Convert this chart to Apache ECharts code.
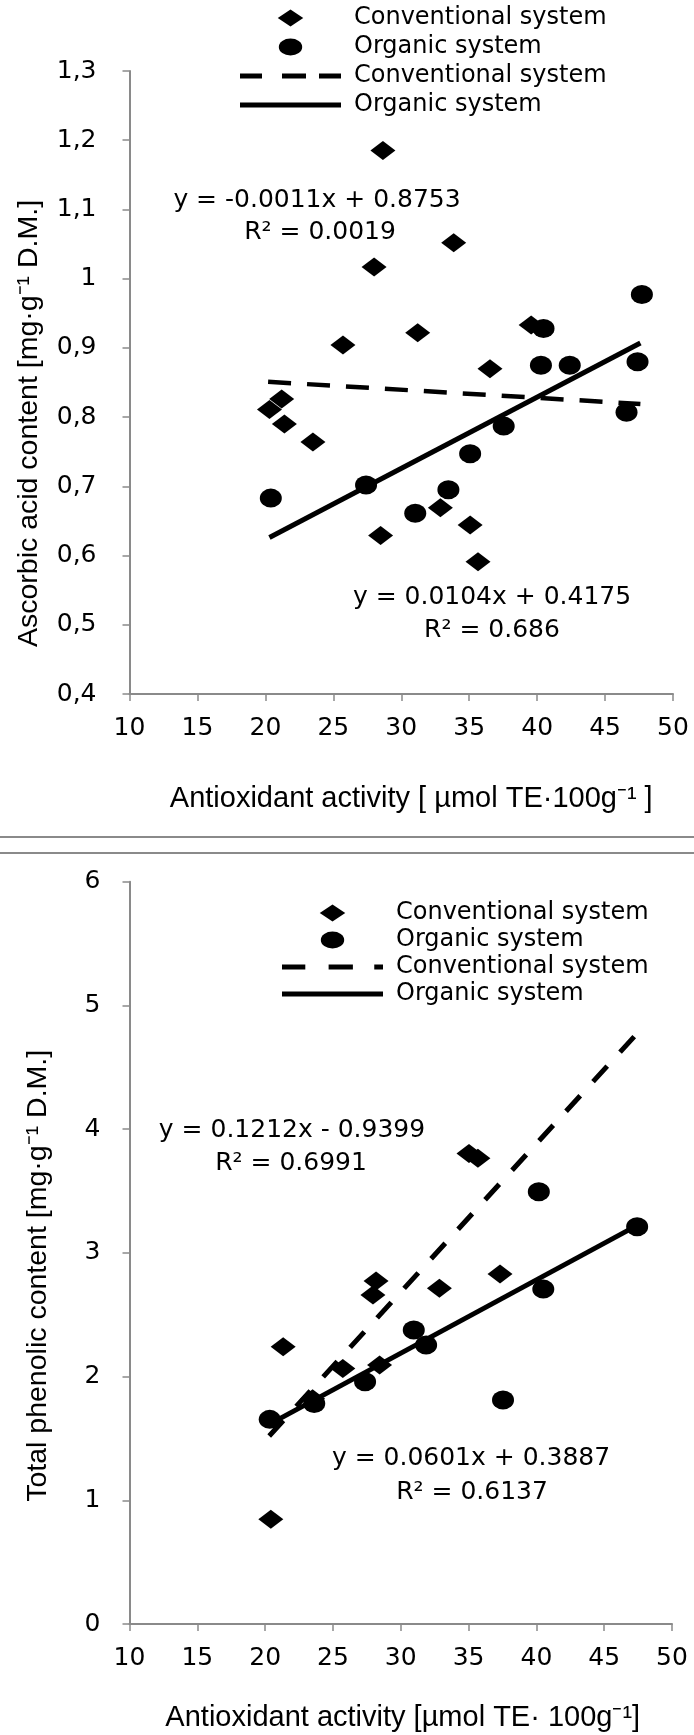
<!DOCTYPE html>
<html>
<head>
<meta charset="utf-8">
<script src="https://cdn.jsdelivr.net/npm/echarts@6/dist/echarts.min.js"></script>
<style>
    html, body { margin: 0; padding: 0; background: #fff; }
    #chart { width: 694px; height: 1735px; }
</style>
</head>
<body>
<div id="chart"></div>
<script>
// x axis ticks (both panels)
const xTicks = ['10', '15', '20', '25', '30', '35', '40', '45', '50'];
// y axis ticks
const yTicksA = ['0,4', '0,5', '0,6', '0,7', '0,8', '0,9', '1', '1,1', '1,2', '1,3'];
const yTicksB = ['0', '1', '2', '3', '4', '5', '6'];

// panel A: ascorbic acid vs antioxidant activity
const convAx = [28.65, 28.0, 33.86, 25.71, 31.21, 39.56, 36.53, 20.3, 21.2, 21.4, 23.5, 28.48, 32.88, 35.07, 35.65];
const convAy = [1.185, 1.017, 1.052, 0.904, 0.922, 0.933, 0.870, 0.811, 0.826, 0.790, 0.764, 0.629, 0.669, 0.644, 0.591];
const orgAx = [47.71, 40.47, 40.28, 42.40, 47.39, 46.58, 37.54, 35.07, 27.41, 33.47, 31.03, 20.40];
const orgAy = [0.977, 0.928, 0.875, 0.875, 0.880, 0.807, 0.787, 0.747, 0.702, 0.695, 0.661, 0.683];
const convFitA = [[20.2, 0.851], [47.6, 0.819]];
const orgFitA = [[20.3, 0.626], [47.6, 0.907]];

// panel B: total phenolics vs antioxidant activity
const convBx = [35.03, 35.69, 28.18, 27.95, 32.85, 37.32, 21.33, 25.73, 28.44, 23.5, 20.42];
const convBy = [3.804, 3.764, 2.772, 2.659, 2.713, 2.829, 2.241, 2.066, 2.093, 1.82, 0.846];
const orgBx = [47.43, 40.18, 40.51, 30.96, 31.87, 27.37, 37.54, 23.62, 20.34];
const orgBy = [3.211, 3.494, 2.707, 2.376, 2.255, 1.958, 1.810, 1.783, 1.654];
const convFitB = [[20.3, 1.52], [47.4, 4.77]];
const orgFitB = [[20.4, 1.62], [47.4, 3.22]];

const legendNames = {
    convA: 'Conventional system', orgA: 'Organic system',
    convFitA: 'Conventional system', orgFitA: 'Organic system',
    convB: 'Conventional system', orgB: 'Organic system',
    convFitB: 'Conventional system', orgFitB: 'Organic system'
};

const CAL = 'DejaVu Sans';
const ARIAL = 'Liberation Sans';
const AXIS_GRAY = '#8a8a8a';

const zip = (xs, ys) => xs.map((x, i) => [x, ys[i]]);

// legend icons
const diamondIcon = 'path://M12,0L24,8L12,16L0,8Z';
const ellipseIcon = 'path://M0,8A11,8 0 1,0 22,8A11,8 0 1,0 0,8Z';
const solidIcon = 'path://M0,0H101V5H0Z';
const dashIconA = 'path://M0,0H22V5H0Z M42,0H66V5H42Z M79,0H101V5H79Z';
const dashIconB = 'path://M0,0H24V5H0Z M48,0H73V5H48Z M95,0H104V5H95Z';

function xAxisOpt (gridIndex, name, nameGap, padLeft) {
    return {
        type: 'value', gridIndex, min: 10, max: 50, interval: 5,
        axisLine: { onZero: false, lineStyle: { color: AXIS_GRAY, width: 2 } },
        axisTick: { length: 7, lineStyle: { color: AXIS_GRAY, width: 1.5 } },
        splitLine: { show: false },
        axisLabel: {
            margin: 22, fontSize: 25, fontFamily: CAL, color: '#000',
            formatter: (v) => xTicks[Math.round((v - 10) / 5)]
        },
        name, nameLocation: 'middle', nameGap,
        nameTextStyle: { fontFamily: ARIAL, fontSize: 29, color: '#000', padding: [0, 0, 0, padLeft] }
    };
}

function yAxisOpt (gridIndex, min, max, interval, ticks, name, nameGap, shiftDown, margin) {
    return {
        type: 'value', gridIndex, min, max, interval,
        axisLine: { onZero: false, lineStyle: { color: AXIS_GRAY, width: 2 } },
        axisTick: { length: 7, lineStyle: { color: AXIS_GRAY, width: 1.5 } },
        splitLine: { show: false },
        axisLabel: {
            margin, fontSize: 25, fontFamily: CAL, color: '#000',
            formatter: (v) => ticks[Math.round((v - min) / interval)]
        },
        name, nameLocation: 'middle', nameGap,
        nameTextStyle: { fontFamily: ARIAL, fontSize: 28.5, color: '#000', padding: [0, shiftDown * 2, 0, 0] }
    };
}

function scatter (name, idx, data, symbol, size) {
    return {
        name, type: 'scatter', xAxisIndex: idx, yAxisIndex: idx, data,
        symbol, symbolSize: size, color: '#000', itemStyle: { color: '#000', opacity: 1 }
    };
}

function fitLine (name, idx, data, dash, width) {
    return {
        name, type: 'line', xAxisIndex: idx, yAxisIndex: idx, data,
        symbol: 'none', color: '#000', z: 3,
        lineStyle: { color: '#000', width, type: dash, cap: 'butt' }
    };
}

function legendOpt (keys, icons, left, top, gap) {
    return {
        orient: 'vertical', left, top, itemWidth: 101, itemHeight: 17, itemGap: gap,
        selectedMode: false, symbolKeepAspect: true,
        data: keys.map((k, i) => ({ name: k, icon: icons[i] })),
        formatter: (n) => legendNames[n],
        itemStyle: { color: '#000', borderWidth: 0, opacity: 1 },
        textStyle: { fontFamily: CAL, fontSize: 24, color: '#000', lineHeight: 26, padding: [0, 0, 0, 8] }
    };
}

function eqText (text, x, y) {
    return {
        type: 'text', x, y,
        style: { text, fontFamily: CAL, fontSize: 25, fill: '#000', align: 'center', verticalAlign: 'middle' }
    };
}

const option = {
    animation: false,
    backgroundColor: '#fff',
    grid: [
        { left: 129.5, right: 21, top: 71, height: 623 },
        { left: 129.5, right: 22, top: 881.7, height: 742.3 }
    ],
    xAxis: [
        xAxisOpt(0, 'Antioxidant activity [ µmol TE·100g⁻¹ ]', 90, 20),
        xAxisOpt(1, 'Antioxidant activity [µmol TE· 100g⁻¹]', 79, 4)
    ],
    yAxis: [
        yAxisOpt(0, 0.4, 1.3, 0.1, yTicksA, 'Ascorbic acid content [mg·g⁻¹ D.M.]', 86, 41, 33),
        yAxisOpt(1, 0, 6, 1, yTicksB, 'Total phenolic content [mg·g⁻¹ D.M.]', 77, 23, 29)
    ],
    legend: [
        legendOpt(['convA', 'orgA', 'convFitA', 'orgFitA'], [diamondIcon, ellipseIcon, dashIconA, solidIcon], 235, 0, 3),
        legendOpt(['convB', 'orgB', 'convFitB', 'orgFitB'], [diamondIcon, ellipseIcon, dashIconB, solidIcon], 277, 895, 1)
    ],
    series: [
        scatter('convA', 0, zip(convAx, convAy), 'diamond', [25, 19]),
        scatter('orgA', 0, zip(orgAx, orgAy), 'circle', [22, 19]),
        fitLine('convFitA', 0, convFitA, [23, 16], 4.5),
        fitLine('orgFitA', 0, orgFitA, 'solid', 5),
        scatter('convB', 1, zip(convBx, convBy), 'diamond', [25, 19]),
        scatter('orgB', 1, zip(orgBx, orgBy), 'circle', [22, 19]),
        fitLine('convFitB', 1, convFitB, [21, 19], 5),
        fitLine('orgFitB', 1, orgFitB, 'solid', 5)
    ],
    graphic: [
        // separators between the two panels
        { type: 'line', shape: { x1: 0, y1: 837, x2: 694, y2: 837 }, style: { stroke: '#8a8a8a', lineWidth: 2 } },
        { type: 'line', shape: { x1: 0, y1: 853, x2: 694, y2: 853 }, style: { stroke: '#8a8a8a', lineWidth: 2 } },
        // regression equations
        eqText('y = -0.0011x + 0.8753', 317, 200),
        eqText('R² = 0.0019', 320, 232),
        eqText('y = 0.0104x + 0.4175', 492, 597),
        eqText('R² = 0.686', 492, 630),
        eqText('y = 0.1212x - 0.9399', 292, 1130),
        eqText('R² = 0.6991', 291, 1163),
        eqText('y = 0.0601x + 0.3887', 471, 1458),
        eqText('R² = 0.6137', 472, 1492)
    ]
};

const chart = echarts.init(document.getElementById('chart'));
chart.setOption(option);
</script>
</body>
</html>
